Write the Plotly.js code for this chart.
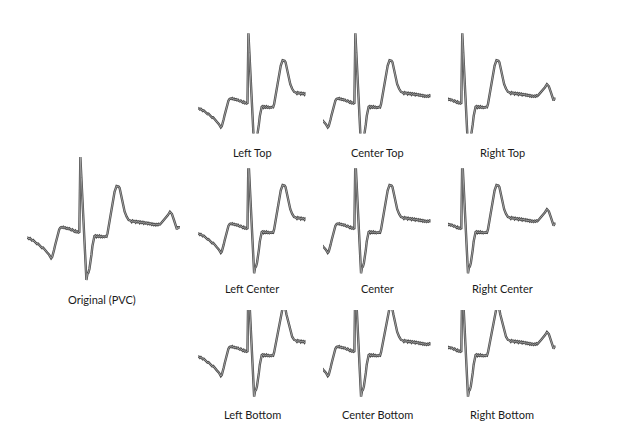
<!DOCTYPE html>
<html>
<head>
<meta charset="utf-8">
<script src="https://cdn.plot.ly/plotly-3.0.1.min.js"></script>
<style>html,body{margin:0;padding:0;background:#fff;}#chart{width:626px;height:446px;}</style>
</head>
<body>
<div id="chart"></div>
<script>
// ECG beat (PVC): sample index and amplitude (ADC units)
const sampleIdx = [0,2,3,5,6,8,10,11,13,15,16,18,20,22,23,24,25,26,27,28,29,30,31,32,33,34,35,36,37,38,39,40,41,42,43,44,45,46,47,48,49,50,51,52,53,54,55,56,57,58,59,60,61,62,63,64,65,66,67,68,69,70,71,72,73,74,75,76,77,78,79,80,82,85,87,89,91,92,93,95,97,99,101,103,104,105,106,107,108,109,110,111,112,113,114,115,116,117,118,119,120,121,122,123,124,125,126,127,128,129,130,131,132,133,136,140,142,144,146,148,149,150,152];
const amplitude = [-110,-130,-122,-145,-140,-165,-180,-176,-200,-220,-216,-245,-265,-288,-302,-323,-310,-280,-235,-190,-150,-105,-65,-35,-18,-12,-16,-8,-20,-15,-26,-20,-30,-24,-36,-42,-34,-52,-56,-46,-62,-56,-66,-60,690,485,280,75,-130,-335,-540,-480,-467,-430,-370,-290,-200,-125,-100,-94,-110,-98,-108,-97,-110,-102,-112,-104,-110,-102,-106,-73,40,195,343,400,395,380,327,243,143,93,60,53,40,55,45,50,35,48,38,45,30,42,32,40,25,36,26,33,20,30,18,25,12,22,10,18,8,18,10,22,15,25,60,110,143,120,60,-13,-33,-13,-13];

// Crop labels
const panelLabels = ["Original (PVC)","Left Top","Center Top","Right Top","Left Center","Center","Right Center","Left Bottom","Center Bottom","Right Bottom"];
// Crop windows (sample range per column, amplitude range per row)
const colWindows = [[0,113],[19,132],[38,151]];
const rowWindows = [[-388,704],[-569,578],[-565,375]];

// ---- layout geometry (pixels) ----
const W = 626, H = 446;
const colBoxes = [[198,305.5],[323,430.5],[448,555.5]];
const rowBoxes = [[32,133.5],[168.3,276],[310,399]];
const labelCols = [252,377,502];
const labelRows = [152,288,414.5];

const px = x => x / W;
const py = y => 1 - y / H;

const panels = [{xd:[27,180], yd:[155,285], xr:[0,152], yr:[-590,710], lx:102, ly:299}];
for (let r = 0; r < 3; r++) {
  for (let c = 0; c < 3; c++) {
    panels.push({xd:colBoxes[c], yd:rowBoxes[r], xr:colWindows[c], yr:rowWindows[r], lx:labelCols[c], ly:labelRows[r]});
  }
}

const traces = [];
const layout = {
  width: W, height: H,
  margin: {l:0, r:0, t:0, b:0},
  paper_bgcolor: '#ffffff', plot_bgcolor: 'rgba(0,0,0,0)',
  showlegend: false,
  annotations: []
};

panels.forEach((p, i) => {
  const n = i === 0 ? '' : String(i + 1);
  const xa = 'x' + n, ya = 'y' + n;
  traces.push({x: sampleIdx, y: amplitude, xaxis: xa, yaxis: ya, type: 'scatter', mode: 'lines',
    line: {color: '#4d4d4d', width: 2.4}, hoverinfo: 'skip'});
  traces.push({x: sampleIdx, y: amplitude, xaxis: xa, yaxis: ya, type: 'scatter', mode: 'lines',
    line: {color: '#a6a6a6', width: 0.9}, hoverinfo: 'skip'});
  const axBase = {visible: false, showgrid: false, zeroline: false, fixedrange: true};
  layout['xaxis' + n] = Object.assign({}, axBase, {domain: [px(p.xd[0]), px(p.xd[1])], range: p.xr, anchor: ya});
  layout['yaxis' + n] = Object.assign({}, axBase, {domain: [py(p.yd[1]), py(p.yd[0])], range: p.yr, anchor: xa});
  layout.annotations.push({
    text: panelLabels[i], xref: 'paper', yref: 'paper', x: px(p.lx), y: py(p.ly),
    xanchor: 'center', yanchor: 'middle', showarrow: false,
    font: {family: 'Lato, sans-serif', size: 11, color: '#1a1a1a'}
  });
});

Plotly.newPlot('chart', traces, layout, {staticPlot: true, displayModeBar: false});
</script>
</body>
</html>
